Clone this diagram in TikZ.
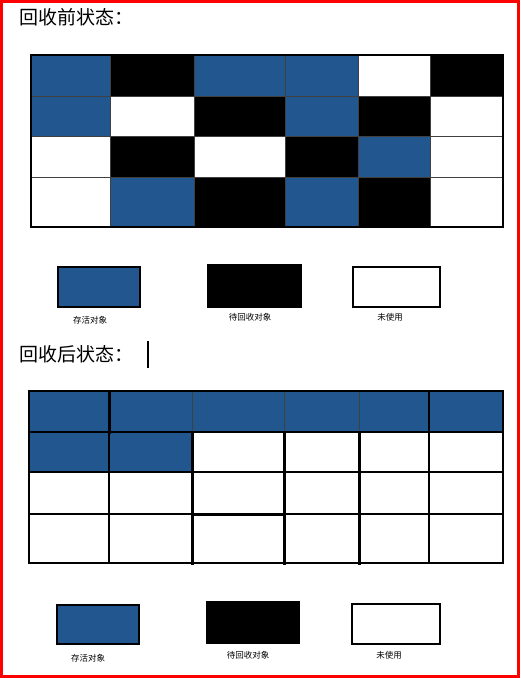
\documentclass[tikz,border=0pt]{standalone}
\usepackage{fontspec}
\usepackage{xcolor}
\usepackage{tikz}
\newfontfamily\cjk{Noto Sans CJK SC}
\definecolor{gcblue}{RGB}{33,86,143}
\tikzset{
	cell/.style={draw=black!75, line width=0.8pt, rectangle, inner sep=0pt, outer sep=0pt},
	live/.style={cell, fill=gcblue},
	dead/.style={cell, fill=black},
	free/.style={cell, fill=white},
	keybox/.style={draw, line width=1.5pt, rectangle, inner sep=0pt},
	keytext/.style={font=\cjk\fontsize{8.5}{10}\selectfont, inner sep=0pt},
	heading/.style={font=\cjk\fontsize{19}{21}\selectfont, anchor=west, inner sep=0pt},
	heavy/.style={line width=3pt, line cap=rect}
}

\begin{document}
\begin{tikzpicture}[x=1pt, y=-1pt]
	\useasboundingbox (0,0) rectangle (520,678);
	\draw[red, line width=3pt] (1.5,1.5) rectangle (518.5,676.5);

	% before collection
	\node[heading] (t1) at (19,17) {回收前状态：};
	\node[live, minimum width=79pt, minimum height=41pt] (b11) at (70.5,75.5) {};
	\node[dead, minimum width=84pt, minimum height=41pt] (b12) at (152,75.5) {};
	\node[live, minimum width=91pt, minimum height=41pt] (b13) at (239.5,75.5) {};
	\node[live, minimum width=73pt, minimum height=41pt] (b14) at (321.5,75.5) {};
	\node[free, minimum width=72pt, minimum height=41pt] (b15) at (394,75.5) {};
	\node[dead, minimum width=73pt, minimum height=41pt] (b16) at (466.5,75.5) {};

	\node[live, minimum width=79pt, minimum height=40pt] (b21) at (70.5,116) {};
	\node[free, minimum width=84pt, minimum height=40pt] (b22) at (152,116) {};
	\node[dead, minimum width=91pt, minimum height=40pt] (b23) at (239.5,116) {};
	\node[live, minimum width=73pt, minimum height=40pt] (b24) at (321.5,116) {};
	\node[dead, minimum width=72pt, minimum height=40pt] (b25) at (394,116) {};
	\node[free, minimum width=73pt, minimum height=40pt] (b26) at (466.5,116) {};

	\node[free, minimum width=79pt, minimum height=41pt] (b31) at (70.5,156.5) {};
	\node[dead, minimum width=84pt, minimum height=41pt] (b32) at (152,156.5) {};
	\node[free, minimum width=91pt, minimum height=41pt] (b33) at (239.5,156.5) {};
	\node[dead, minimum width=73pt, minimum height=41pt] (b34) at (321.5,156.5) {};
	\node[live, minimum width=72pt, minimum height=41pt] (b35) at (394,156.5) {};
	\node[free, minimum width=73pt, minimum height=41pt] (b36) at (466.5,156.5) {};

	\node[free, minimum width=79pt, minimum height=50pt] (b41) at (70.5,202) {};
	\node[live, minimum width=84pt, minimum height=50pt] (b42) at (152,202) {};
	\node[dead, minimum width=91pt, minimum height=50pt] (b43) at (239.5,202) {};
	\node[live, minimum width=73pt, minimum height=50pt] (b44) at (321.5,202) {};
	\node[dead, minimum width=72pt, minimum height=50pt] (b45) at (394,202) {};
	\node[free, minimum width=73pt, minimum height=50pt] (b46) at (466.5,202) {};
	\draw[line width=1.2pt] (b11.north west) rectangle (b46.south east);

	\node[keybox, fill=gcblue, minimum width=82pt, minimum height=40pt] (k1) at (99,287) {};
	\node[keybox, fill=black, minimum width=93pt, minimum height=42pt] (k2) at (254.5,286) {};
	\node[keybox, fill=white, minimum width=87pt, minimum height=40pt] (k3) at (396.5,287) {};
	\node[keytext] (l1) at (90,320) {存活对象};
	\node[keytext] (l2) at (250,317) {待回收对象};
	\node[keytext] (l3) at (390,317) {未使用};

	% after collection
	\node[heading] (t2) at (19,354) {回收后状态：};
	\coordinate (cur1) at (148,341);
	\coordinate (cur2) at (148,368);
	\draw[line width=2pt] (cur1) -- (cur2);

	\node[live, minimum width=80pt, minimum height=41pt] (a11) at (69,411.5) {};
	\node[live, minimum width=83pt, minimum height=41pt] (a12) at (150.5,411.5) {};
	\node[live, minimum width=92pt, minimum height=41pt] (a13) at (238,411.5) {};
	\node[live, minimum width=75pt, minimum height=41pt] (a14) at (321.5,411.5) {};
	\node[live, minimum width=70pt, minimum height=41pt] (a15) at (394,411.5) {};
	\node[live, minimum width=74pt, minimum height=41pt] (a16) at (466,411.5) {};

	\node[live, minimum width=80pt, minimum height=40pt] (a21) at (69,452) {};
	\node[live, minimum width=83pt, minimum height=40pt] (a22) at (150.5,452) {};
	\node[free, minimum width=92pt, minimum height=40pt] (a23) at (238,452) {};
	\node[free, minimum width=75pt, minimum height=40pt] (a24) at (321.5,452) {};
	\node[free, minimum width=70pt, minimum height=40pt] (a25) at (394,452) {};
	\node[free, minimum width=74pt, minimum height=40pt] (a26) at (466,452) {};

	\node[free, minimum width=80pt, minimum height=42pt] (a31) at (69,493) {};
	\node[free, minimum width=83pt, minimum height=42pt] (a32) at (150.5,493) {};
	\node[free, minimum width=92pt, minimum height=42pt] (a33) at (238,493) {};
	\node[free, minimum width=75pt, minimum height=42pt] (a34) at (321.5,493) {};
	\node[free, minimum width=70pt, minimum height=42pt] (a35) at (394,493) {};
	\node[free, minimum width=74pt, minimum height=42pt] (a36) at (466,493) {};

	\node[free, minimum width=80pt, minimum height=49pt] (a41) at (69,538.5) {};
	\node[free, minimum width=83pt, minimum height=49pt] (a42) at (150.5,538.5) {};
	\node[free, minimum width=92pt, minimum height=49pt] (a43) at (238,538.5) {};
	\node[free, minimum width=75pt, minimum height=49pt] (a44) at (321.5,538.5) {};
	\node[free, minimum width=70pt, minimum height=49pt] (a45) at (394,538.5) {};
	\node[free, minimum width=74pt, minimum height=49pt] (a46) at (466,538.5) {};

	\draw[line width=1.5pt] (a11.north west) rectangle (a46.south east);
	\draw[line width=1.5pt] (a11.south west) -- (a16.south east);
	\draw[line width=1.2pt] (a21.south west) -- (a26.south east);
	\draw[line width=1.2pt] (a31.south west) -- (a36.south east);
	\draw[line width=1.2pt] (a16.north west) -- (a46.south west);
	\draw[line width=1.2pt] (a22.north west) -- (a42.south west);
	\draw[heavy] (a12.north west) -- (a12.south west);
	\draw[heavy] (a23.north west) -- (a43.south west);
	\draw[heavy] (a43.north west) -- (a43.north east);
	\draw[heavy] (a24.north west) -- (a44.south west);
	\draw[heavy] (a25.north west) -- (a45.south west);
	\draw[line width=2pt] (a34.north west) -- (a34.north east);

	\node[keybox, fill=gcblue, minimum width=82pt, minimum height=39pt] (k4) at (98,624.5) {};
	\node[keybox, fill=black, minimum width=92pt, minimum height=41pt] (k5) at (253,622.5) {};
	\node[keybox, fill=white, minimum width=88pt, minimum height=40pt] (k6) at (396,624) {};
	\node[keytext] (l4) at (88,658) {存活对象};
	\node[keytext] (l5) at (248,655) {待回收对象};
	\node[keytext] (l6) at (389,655) {未使用};
\end{tikzpicture}
\end{document}
